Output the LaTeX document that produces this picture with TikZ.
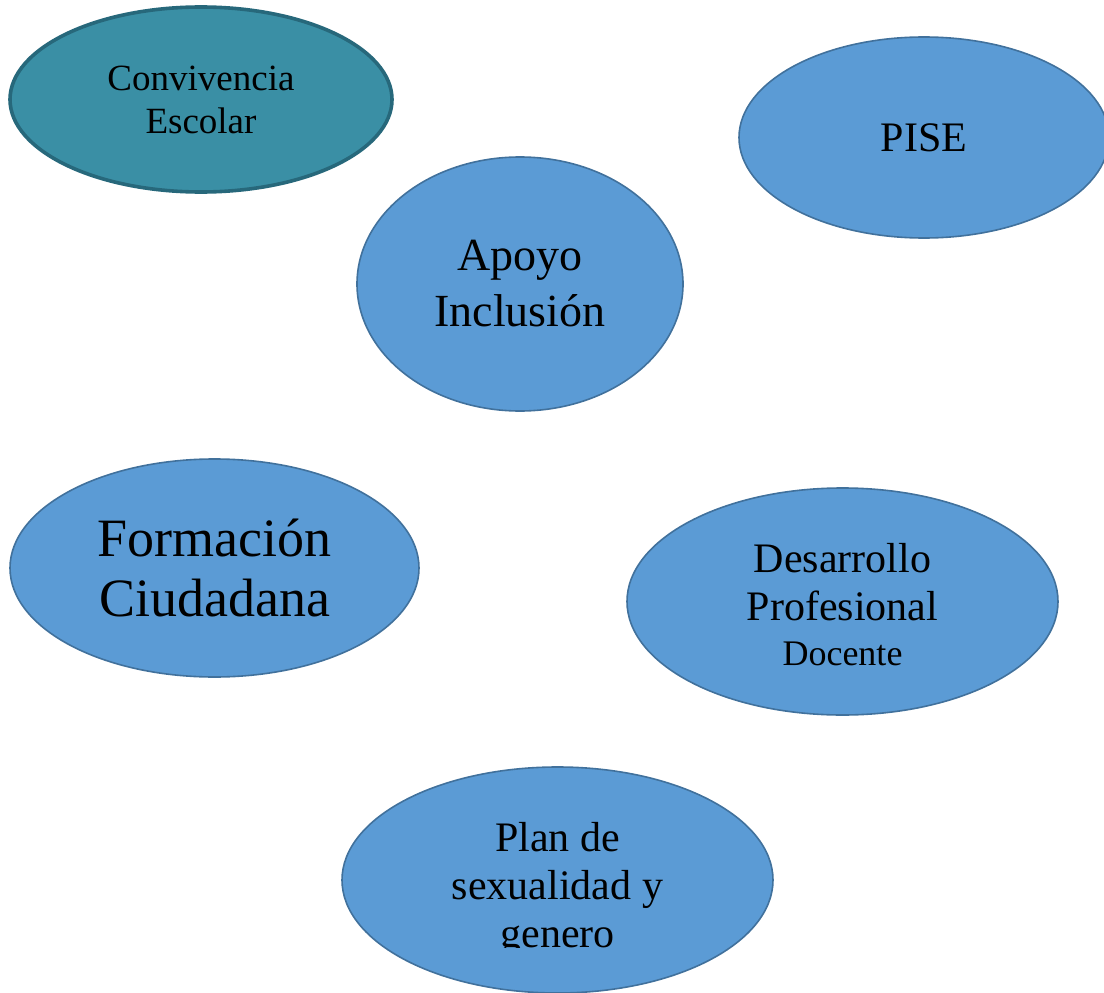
\documentclass[tikz,border=0pt]{standalone}
\usepackage{fontspec}
\setmainfont{Liberation Serif}
\usepackage{tikz}
\usetikzlibrary{shapes.geometric}
\definecolor{bluefill}{HTML}{5B9BD5}
\definecolor{blueline}{HTML}{41719C}
\definecolor{tealfill}{HTML}{3A8FA5}
\definecolor{tealline}{HTML}{27687B}
\tikzset{
  bubble/.style={ellipse, fill=bluefill, draw=blueline, line width=1.6pt,
    inner sep=0pt, align=center, text=black},
  tealbubble/.style={bubble, fill=tealfill, draw=tealline, line width=3.6pt}
}

\begin{document}
\begin{tikzpicture}[x=1pt, y=-1pt]
  \useasboundingbox (0,0) rectangle (1104,993);
  \clip (0,0) rectangle (1104,993);

  \node[tealbubble, minimum width=382, minimum height=185,
        font=\fontsize{37}{43}\selectfont] (conv) at (201,99.5) {Convivencia\\Escolar};

  \node[bubble, minimum width=370, minimum height=201,
        font=\fontsize{42}{48}\selectfont] (pise) at (924,137.5) {PISE};

  \node[bubble, minimum width=326, minimum height=254,
        font=\fontsize{46}{56}\selectfont] (apoyo) at (520,284) {Apoyo\\Inclusión};

  \node[bubble, minimum width=409, minimum height=218,
        font=\fontsize{54}{60}\selectfont] (formacion) at (214.5,568) {Formación\\Ciudadana};

  \node[bubble, minimum width=431, minimum height=227,
        font=\fontsize{42}{48}\selectfont] (desarrollo) at (842.5,601.5) {};
  \node[align=center, inner sep=0pt, font=\fontsize{42}{48}\selectfont]
    (desarrollotext) at ([yshift=-3pt]desarrollo.center)
    {Desarrollo\\Profesional\\[-3pt]{\fontsize{36}{45}\selectfont Docente}};

  % the last line is cut off in the original
  \node[bubble, minimum width=431, minimum height=226] (plan) at (557.5,880) {};
  \begin{scope}
    \clip (300,760) rectangle (820,947);
    \node[align=center, inner sep=0pt, font=\fontsize{42}{48}\selectfont]
      (plantext) at ([yshift=-9pt]plan.center) {Plan de\\sexualidad y\\genero};
  \end{scope}
\end{tikzpicture}
\end{document}
